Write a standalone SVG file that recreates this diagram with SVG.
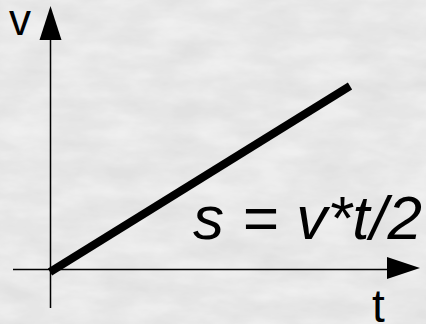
<svg xmlns="http://www.w3.org/2000/svg" width="426" height="324" viewBox="0 0 426 324">
  <defs>
    <filter id="marble" x="0" y="0" width="100%" height="100%">
      <feTurbulence type="fractalNoise" baseFrequency="0.02 0.05" numOctaves="4" seed="3" result="n"/>
      <feColorMatrix in="n" type="matrix" values="0 0 0 0 0.97  0 0 0 0 0.97  0 0 0 0 0.97  0.9 0 0 0 -0.2" result="c"/>
      <feComposite in="c" in2="SourceGraphic" operator="over"/>
    </filter>
  </defs>
  <style>
    .axis { stroke: #000; stroke-width: 1.5; fill: none; }
    .head { fill: #000; }
    .lbl { font-family: "Liberation Sans", Arial, sans-serif; fill: #000; }
  </style>
  <rect id="background" x="0" y="0" width="426" height="324" fill="#e6e6e6"/>
  <rect x="0" y="0" width="426" height="324" fill="#e2e2e2" filter="url(#marble)" opacity="0.9"/>
  <g id="axes">
    <line class="axis" x1="50.5" y1="308" x2="50.5" y2="38"/>
    <polygon class="head" points="50.5,6 39.5,40 61.5,40"/>
    <line class="axis" x1="13" y1="269.5" x2="390" y2="269.5"/>
    <polygon class="head" points="420,268 387,257 387,279"/>
  </g>
  <g id="graph">
    <line x1="50" y1="272" x2="350" y2="86" stroke="#000" stroke-width="8"/>
  </g>
  <g id="labels">
    <text class="lbl" x="9" y="35" font-size="44">v</text>
    <text class="lbl" x="372" y="322" font-size="46">t</text>
    <text class="lbl" x="193" y="239" font-size="62" font-style="italic" textLength="229" lengthAdjust="spacing">s = v*t/2</text>
  </g>
</svg>
